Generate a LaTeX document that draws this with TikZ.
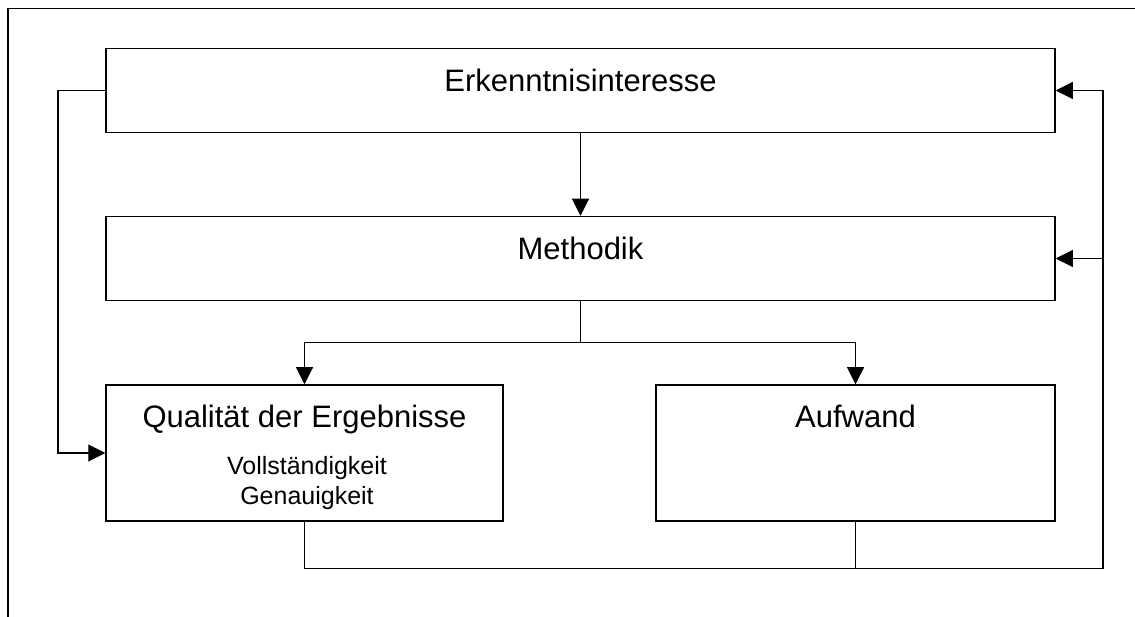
\documentclass[tikz,border=0pt]{standalone}
\usepackage{fontspec}
\setmainfont{Liberation Sans}
\usetikzlibrary{arrows.meta}
\begin{document}
\begin{tikzpicture}[x=1pt,y=-1pt,
  box/.style={draw,line width=1.5pt,rectangle,inner sep=0pt},
  lbl/.style={anchor=base,inner sep=0pt,font=\fontsize{31}{36}\selectfont},
  sublbl/.style={anchor=base,inner sep=0pt,font=\fontsize{25}{29}\selectfont},
  conn/.style={line width=1.1pt},
  arr/.style={conn,-{Triangle[length=17pt,width=17pt]}}]
\useasboundingbox (0,0) rectangle (1135,617);
% partial frame
\draw[line width=1.8pt] (8,617) -- (8,8.5) -- (1135,8.5);
% boxes
\node[box,minimum width=949pt,minimum height=84pt] (erk) at (580.5,90.5) {};
\node[box,minimum width=949pt,minimum height=84pt] (met) at (580.5,258.5) {};
\node[box,minimum width=397pt,minimum height=136pt] (qual) at (304.5,453) {};
\node[box,minimum width=399pt,minimum height=136pt] (auf) at (855.5,453) {};
% labels
\node[lbl] (erkT) at (580.5,92) {Erkenntnisinteresse};
\node[lbl] (metT) at (580.5,260) {Methodik};
\node[lbl] (qualT) at (304.5,427) {Qualität der Ergebnisse};
\node[sublbl] (qualA) at (307,474) {Vollständigkeit};
\node[sublbl] (qualB) at (307,504) {Genauigkeit};
\node[lbl] (aufT) at (855.5,427) {Aufwand};
% coordinates
\coordinate (split) at (580.5,342.5);
\coordinate (lft) at (58,90.5);
\coordinate (bl) at (304.5,568.5);
\coordinate (br) at (1103,568.5);
\coordinate (rm) at (1103,258.5);
\coordinate (rt) at (1103,90.5);
% connectors
\draw[arr] (erk.south) -- (met.north);
\draw[conn] (met.south) -- (split);
\draw[arr] (split) -| (qual.north);
\draw[arr] (split) -| (auf.north);
\draw[arr] (erk.west) -- (lft) |- (qual.west);
\draw[conn] (qual.south) -- (bl) -- (br) -- (rt);
\draw[conn] (auf.south) -- (auf.south |- bl);
\draw[arr] (rt) -- (erk.east);
\draw[arr] (rm) -- (met.east);
\end{tikzpicture}
\end{document}
